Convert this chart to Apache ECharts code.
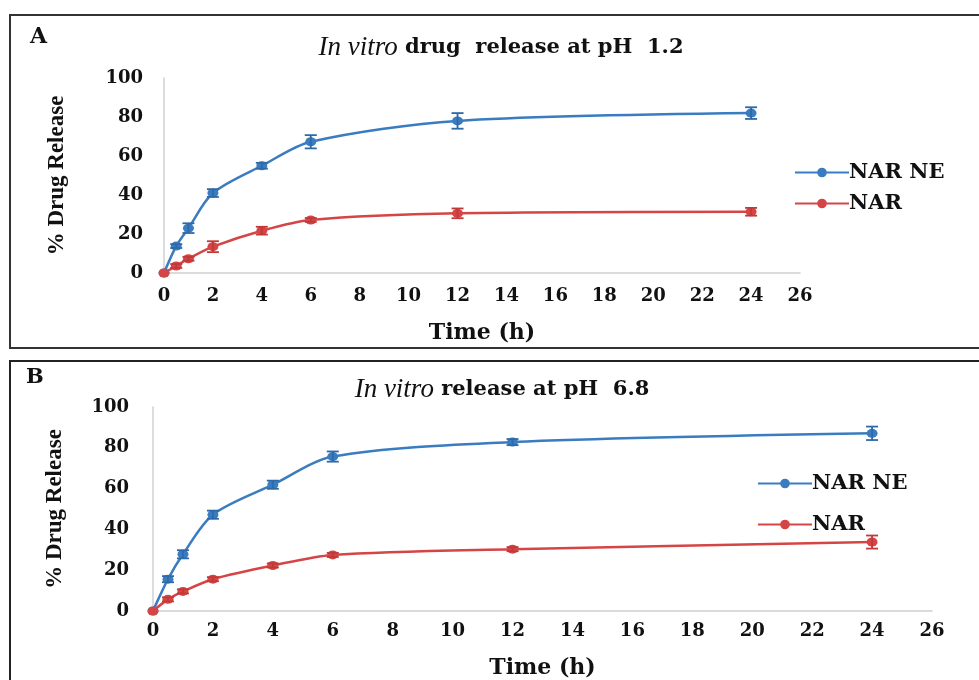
<!DOCTYPE html>
<html>
<head>
<meta charset="utf-8">
<script src="https://cdn.jsdelivr.net/npm/echarts@6/dist/echarts.min.js"></script>
<style>
  html, body { margin: 0; padding: 0; background: #fff; }
  #chart { width: 979px; height: 680px; }
</style>
</head>
<body>
<div id="chart"></div>
<script>
// sampling times (h)
const times = [0, 0.5, 1, 2, 4, 6, 12, 24]
const xTicks = [0, 2, 4, 6, 8, 10, 12, 14, 16, 18, 20, 22, 24, 26]
const yTicks = [0, 20, 40, 60, 80, 100]

// panel A, pH 1.2
const neA = [0, 13.8, 23, 41, 55, 67.3, 78, 82]
const neErrA = [0, 1, 2.5, 2, 1.5, 3.4, 4, 3]
const narA = [0, 3.6, 7.3, 13.5, 21.7, 27.2, 30.6, 31.4]
const narErrA = [0, 1, 1, 2.8, 2, 1, 2.5, 2]

// panel B, pH 6.8
const neB = [0, 15.6, 27.8, 47.2, 61.9, 75.7, 82.8, 87.1]
const neErrB = [0, 1.5, 2, 2, 2, 2.5, 1.5, 3.3]
const narB = [0, 5.7, 9.6, 15.6, 22.3, 27.5, 30.3, 33.8]
const narErrB = [0, 1, 1, 1, 1, 1, 1, 3.2]

const BLUE = '#3a7cc0'
const RED = '#d64545'
const SERIF_WIDE = '"DejaVu Serif", serif'
const SERIF = '"Liberation Serif", "Times New Roman", serif'

const pairs = (vals) => times.map((t, i) => [t, vals[i]])
const errPairs = (vals, errs) => times.map((t, i) => [t, vals[i] - errs[i], vals[i] + errs[i]])

const lineSeries = (name, vals, color, idx) => ({
  name: name,
  type: 'line',
  xAxisIndex: idx,
  yAxisIndex: idx,
  data: pairs(vals),
  smooth: 0.3,
  symbol: 'circle',
  symbolSize: [11, 9],
  itemStyle: { color: color },
  lineStyle: { color: color, width: 2.5 },
  z: 3
})

const errSeries = (vals, errs, color, idx) => ({
  type: 'custom',
  xAxisIndex: idx,
  yAxisIndex: idx,
  data: errPairs(vals, errs),
  silent: true,
  z: 4,
  renderItem: (params, api) => {
    const lo = api.coord([api.value(0), api.value(1)])
    const hi = api.coord([api.value(0), api.value(2)])
    if (Math.abs(lo[1] - hi[1]) < 3) return null
    const w = 6
    const st = { stroke: color, lineWidth: 1.8 }
    return {
      type: 'group',
      children: [
        { type: 'line', shape: { x1: lo[0], y1: lo[1], x2: hi[0], y2: hi[1] }, style: st },
        { type: 'line', shape: { x1: lo[0] - w, y1: lo[1], x2: lo[0] + w, y2: lo[1] }, style: st },
        { type: 'line', shape: { x1: hi[0] - w, y1: hi[1], x2: hi[0] + w, y2: hi[1] }, style: st }
      ]
    }
  }
})

const xAxisFor = (idx, labelMargin, nameGap) => ({
  type: 'value',
  gridIndex: idx,
  min: xTicks[0],
  max: xTicks[xTicks.length - 1],
  interval: 2,
  name: 'Time (h)',
  nameLocation: 'middle',
  nameGap: nameGap,
  nameTextStyle: { fontFamily: SERIF_WIDE, fontWeight: 'bold', fontSize: 22, color: '#111' },
  axisLine: { lineStyle: { color: '#d0d0d0', width: 1.5 } },
  axisTick: { show: false },
  splitLine: { show: false },
  axisLabel: { margin: labelMargin, fontFamily: SERIF_WIDE, fontWeight: 'bold', fontSize: 18, color: '#111' }
})

const yAxisFor = (idx, labelMargin, nameGap) => ({
  type: 'value',
  gridIndex: idx,
  min: yTicks[0],
  max: yTicks[yTicks.length - 1],
  interval: 20,
  name: '% Drug Release',
  nameLocation: 'middle',
  nameGap: nameGap,
  nameRotate: 90,
  nameTextStyle: { fontFamily: SERIF, fontWeight: 'bold', fontSize: 23, color: '#111' },
  axisLine: { show: true, lineStyle: { color: '#d0d0d0', width: 1.5 } },
  axisTick: { show: false },
  splitLine: { show: false },
  axisLabel: { margin: labelMargin, fontFamily: SERIF_WIDE, fontWeight: 'bold', fontSize: 18, color: '#111' }
})

const titleRich = {
  i: { fontFamily: SERIF, fontStyle: 'italic', fontWeight: 'normal', fontSize: 27, color: '#111' },
  b: { fontFamily: SERIF_WIDE, fontWeight: 'bold', fontSize: 21, color: '#111' }
}

const legendFor = (left, top, gap) => ({
  orient: 'vertical',
  left: left,
  top: top,
  itemWidth: 54,
  itemHeight: 12,
  itemGap: gap,
  data: ['NAR NE', 'NAR'],
  textStyle: { fontFamily: SERIF_WIDE, fontWeight: 'bold', fontSize: 21, color: '#111', lineHeight: 20, padding: [0, 0, 0, -5] }
})

const chart = echarts.init(document.getElementById('chart'))
chart.setOption({
  backgroundColor: '#fff',
  animation: false,
  title: [
    { text: '{i|In vitro}{b| drug  release at pH  1.2}', left: 496, top: 29, textAlign: 'center', textStyle: { rich: titleRich } },
    { text: '{i|In vitro}{b| release at pH  6.8}', left: 497, top: 371, textAlign: 'center', textStyle: { rich: titleRich } }
  ],
  graphic: [
    { type: 'rect', shape: { x: 10, y: 15, width: 975, height: 333 }, style: { fill: 'none', stroke: '#333', lineWidth: 2 } },
    { type: 'rect', shape: { x: 10, y: 361, width: 975, height: 330 }, style: { fill: 'none', stroke: '#222', lineWidth: 2 } },
    { type: 'text', x: 30, y: 26, style: { text: 'A', font: 'bold 22px "DejaVu Serif", serif', fill: '#111' } },
    { type: 'text', x: 26, y: 367, style: { text: 'B', font: 'bold 21px "DejaVu Serif", serif', fill: '#111' } }
  ],
  legend: [
    legendFor(789, 157, 10),
    legendFor(752, 468, 20)
  ],
  grid: [
    { left: 164, right: 179, top: 78, bottom: 407 },
    { left: 153, right: 47, top: 407, bottom: 62 }
  ],
  xAxis: [xAxisFor(0, 14, 49), xAxisFor(1, 11, 46)],
  yAxis: [yAxisFor(0, 21, 95), yAxisFor(1, 24, 86)],
  series: [
    lineSeries('NAR NE', neA, BLUE, 0),
    lineSeries('NAR', narA, RED, 0),
    errSeries(neA, neErrA, '#2e6aa8', 0),
    errSeries(narA, narErrA, '#c03a3a', 0),
    lineSeries('NAR NE', neB, BLUE, 1),
    lineSeries('NAR', narB, RED, 1),
    errSeries(neB, neErrB, '#2e6aa8', 1),
    errSeries(narB, narErrB, '#c03a3a', 1)
  ]
})
window.addEventListener('resize', () => chart.resize())
</script>
</body>
</html>
